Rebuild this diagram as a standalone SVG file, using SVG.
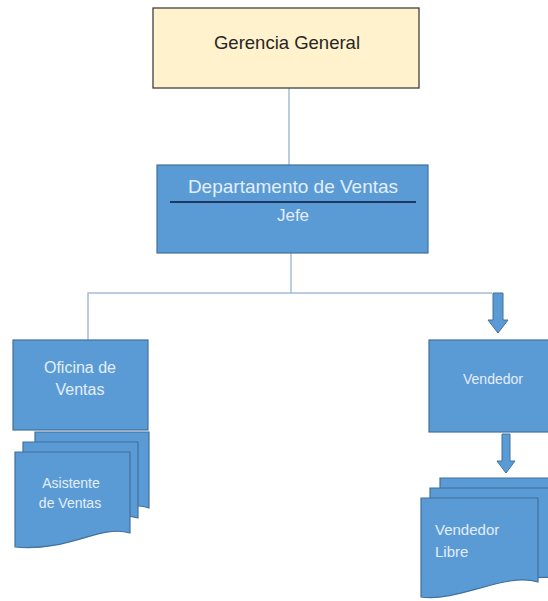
<svg xmlns="http://www.w3.org/2000/svg" width="548" height="601" viewBox="0 0 548 601">
  <style>
    .box { fill: #5B9BD5; stroke: #41719C; stroke-width: 1.2; }
    .doc { fill: #5B9BD5; stroke: #41719C; stroke-width: 1.2; }
    .lbl { font-family: "Liberation Sans", Arial, sans-serif; fill: #E3EEFA; }
    .conn { fill: none; stroke: #A7BCD6; stroke-width: 1.5; }
    .blk { fill: #5B9BD5; stroke: #41719C; stroke-width: 1; }
  </style>
  <rect width="548" height="601" fill="#FFFFFF"/>

  <!-- connectors -->
  <g id="connectors">
    <path class="conn" d="M289,88 V165"/>
    <path class="conn" d="M291,253 V293"/>
    <path class="conn" d="M88,340 V293 H492"/>
    <!-- block arrows -->
    <path class="blk" d="M493,293 H503 V320 H508 L498,333 L488,320 H493 Z"/>
    <path class="blk" d="M502,434 H510 V461 H515 L506,473 L497,461 H502 Z"/>
  </g>

  <g id="gerencia-general">
    <rect x="153" y="8" width="266" height="80" fill="#FFF2CC" stroke="#404040" stroke-width="1.3"/>
    <text x="287" y="49" text-anchor="middle" font-family="Liberation Sans, Arial, sans-serif" font-size="18.5" fill="#262626">Gerencia General</text>
  </g>

  <g id="departamento-ventas">
    <rect class="box" x="157" y="165" width="271" height="88"/>
    <text class="lbl" x="293" y="193" text-anchor="middle" font-size="19">Departamento de Ventas</text>
    <line x1="170" y1="202" x2="416" y2="202" stroke="#1F3864" stroke-width="2"/>
    <text class="lbl" x="293" y="221" text-anchor="middle" font-size="17">Jefe</text>
  </g>

  <g id="asistente-ventas">
    <path class="doc" d="M35,432 H149 V508 C125,500 90,516 35,513 Z"/>
    <path class="doc" d="M23,442 H138 V518 C112,510 78,528 23,523 Z"/>
    <path class="doc" d="M15,452 H130 V533 C100,524 70,552 15,547 Z"/>
    <text class="lbl" x="71" y="488" text-anchor="middle" font-size="14">Asistente</text>
    <text class="lbl" x="70" y="508" text-anchor="middle" font-size="14">de Ventas</text>
  </g>

  <g id="oficina-ventas">
    <rect class="box" x="13" y="340" width="135" height="90"/>
    <text class="lbl" x="80" y="373" text-anchor="middle" font-size="16">Oficina de</text>
    <text class="lbl" x="80" y="395" text-anchor="middle" font-size="16">Ventas</text>
  </g>

  <g id="vendedor">
    <rect class="box" x="429" y="340" width="125" height="92"/>
    <text class="lbl" x="493" y="384" text-anchor="middle" font-size="14">Vendedor</text>
  </g>

  <g id="vendedor-libre">
    <path class="doc" d="M440,478 H556 V570 C530,566 480,580 440,578 Z"/>
    <path class="doc" d="M430,488 H556 V578 C520,574 470,590 430,588 Z"/>
    <path class="doc" d="M421,498 H538 V582 C505,572 460,602 421,597 Z"/>
    <text class="lbl" x="435" y="535" font-size="15">Vendedor</text>
    <text class="lbl" x="435" y="557" font-size="15">Libre</text>
  </g>
</svg>
